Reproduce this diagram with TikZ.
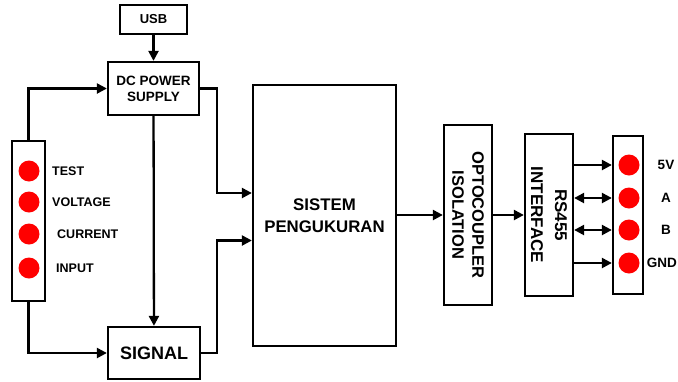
\documentclass[tikz,border=0pt]{standalone}
\usepackage{fontspec}
\setmainfont{Liberation Sans}
\usetikzlibrary{arrows.meta,calc}
\tikzset{
  blok/.style={draw,line width=2.3pt,inner sep=0pt,align=center},
  led/.style={circle,fill=red,draw=none,minimum size=21pt,inner sep=0pt},
  lbl/.style={inner sep=0pt,font=\bfseries\fontsize{12.5}{14}\selectfont},
  arr/.style={line width=2.3pt,-{Triangle[length=10pt,width=10pt]}},
  darr/.style={line width=2.3pt,{Triangle[length=10pt,width=10pt]}-{Triangle[length=10pt,width=10pt]}}
}
\begin{document}
\begin{tikzpicture}[x=1pt,y=-1pt]
                      \useasboundingbox (0,0) rectangle (678,381);
                      % blocks
                      \node[blok,minimum width=67pt,minimum height=29pt,font=\bfseries\fontsize{13}{15}\selectfont] (USB) at (153.5,19.5) {USB};
                      \node[blok,minimum width=91pt,minimum height=53pt,font=\bfseries\fontsize{13.5}{16}\selectfont] (DCPS) at (153.5,88.5) {DC POWER\\SUPPLY};
                      \node[blok,minimum width=92pt,minimum height=52pt,font=\bfseries\fontsize{18}{20}\selectfont] (Signal) at (154,353) {SIGNAL};
                      \node[blok,minimum width=33pt,minimum height=160pt] (Input) at (28.5,221) {};
                      \node[blok,minimum width=143pt,minimum height=261pt,font=\bfseries\fontsize{16.8}{22}\selectfont] (Sistem) at (324.5,215.5) {SISTEM\\PENGUKURAN};
                      \node[blok,minimum width=48pt,minimum height=180pt] (Opto) at (468,215) {};
                      \node[rotate=-90,align=center,inner sep=0pt,font=\bfseries\fontsize{16.5}{20}\selectfont] (OptoTxt) at (Opto) {OPTOCOUPLER\\ISOLATION};
                      \node[blok,minimum width=48pt,minimum height=162pt] (RS) at (549,215) {};
                      \node[rotate=-90,align=center,inner sep=0pt,font=\bfseries\fontsize{17}{24}\selectfont] (RSTxt) at (RS) {RS455\\INTERFACE};
                      \node[blok,minimum width=30pt,minimum height=158pt] (Conn) at (628,215) {};
                      % input leds
                      \node[led] (L1) at (29,171) {};
                      \node[led] (L2) at (29,202) {};
                      \node[led] (L3) at (29,234) {};
                      \node[led] (L4) at (29,268) {};
                      \node[lbl,anchor=west] (T1) at (52,171) {TEST};
                      \node[lbl,anchor=west] (T2) at (52,202) {VOLTAGE};
                      \node[lbl,anchor=west] (T3) at (57,234) {CURRENT};
                      \node[lbl,anchor=west] (T4) at (56,268) {INPUT};
                      % output leds
                      \node[led] (P1) at (629,165) {};
                      \node[led] (P2) at (629,198) {};
                      \node[led] (P3) at (629,230) {};
                      \node[led] (P4) at (629,263) {};
                      \node[lbl,font=\bfseries\fontsize{13.5}{15}\selectfont] (Q1) at (666,165) {5V};
                      \node[lbl,font=\bfseries\fontsize{13.5}{15}\selectfont] (Q2) at (666,198) {A};
                      \node[lbl,font=\bfseries\fontsize{13.5}{15}\selectfont] (Q3) at (666,230) {B};
                      \node[lbl,anchor=east,font=\bfseries\fontsize{13.5}{15}\selectfont] (Q4) at (677,263) {GND};
                      % connectors
                      \draw[arr] (USB) -- (DCPS);
                      \draw[arr] (Input.north) |- (DCPS.west);
                      \draw[arr] (Input.south) |- (Signal.west);
                      \draw[arr] (DCPS) -- (Signal);
                      \draw[arr] (DCPS.east) -- ++(17,0) |- ($(Sistem.west)+(0,-22.5)$);
                      \draw[arr] (Signal.east) -- ++(16,0) |- ($(Sistem.west)+(0,25)$);
                      \draw[arr] (Sistem.east |- Opto) -- (Opto.west);
                      \draw[arr] (Opto) -- (RS);
                      \draw[arr] (RS.east |- P1) -- (Conn.west |- P1);
                      \draw[darr] (RS.east |- P2) -- (Conn.west |- P2);
                      \draw[darr] (RS.east |- P3) -- (Conn.west |- P3);
                      \draw[arr] (RS.east |- P4) -- (Conn.west |- P4);
                    \end{tikzpicture}
\end{document}
